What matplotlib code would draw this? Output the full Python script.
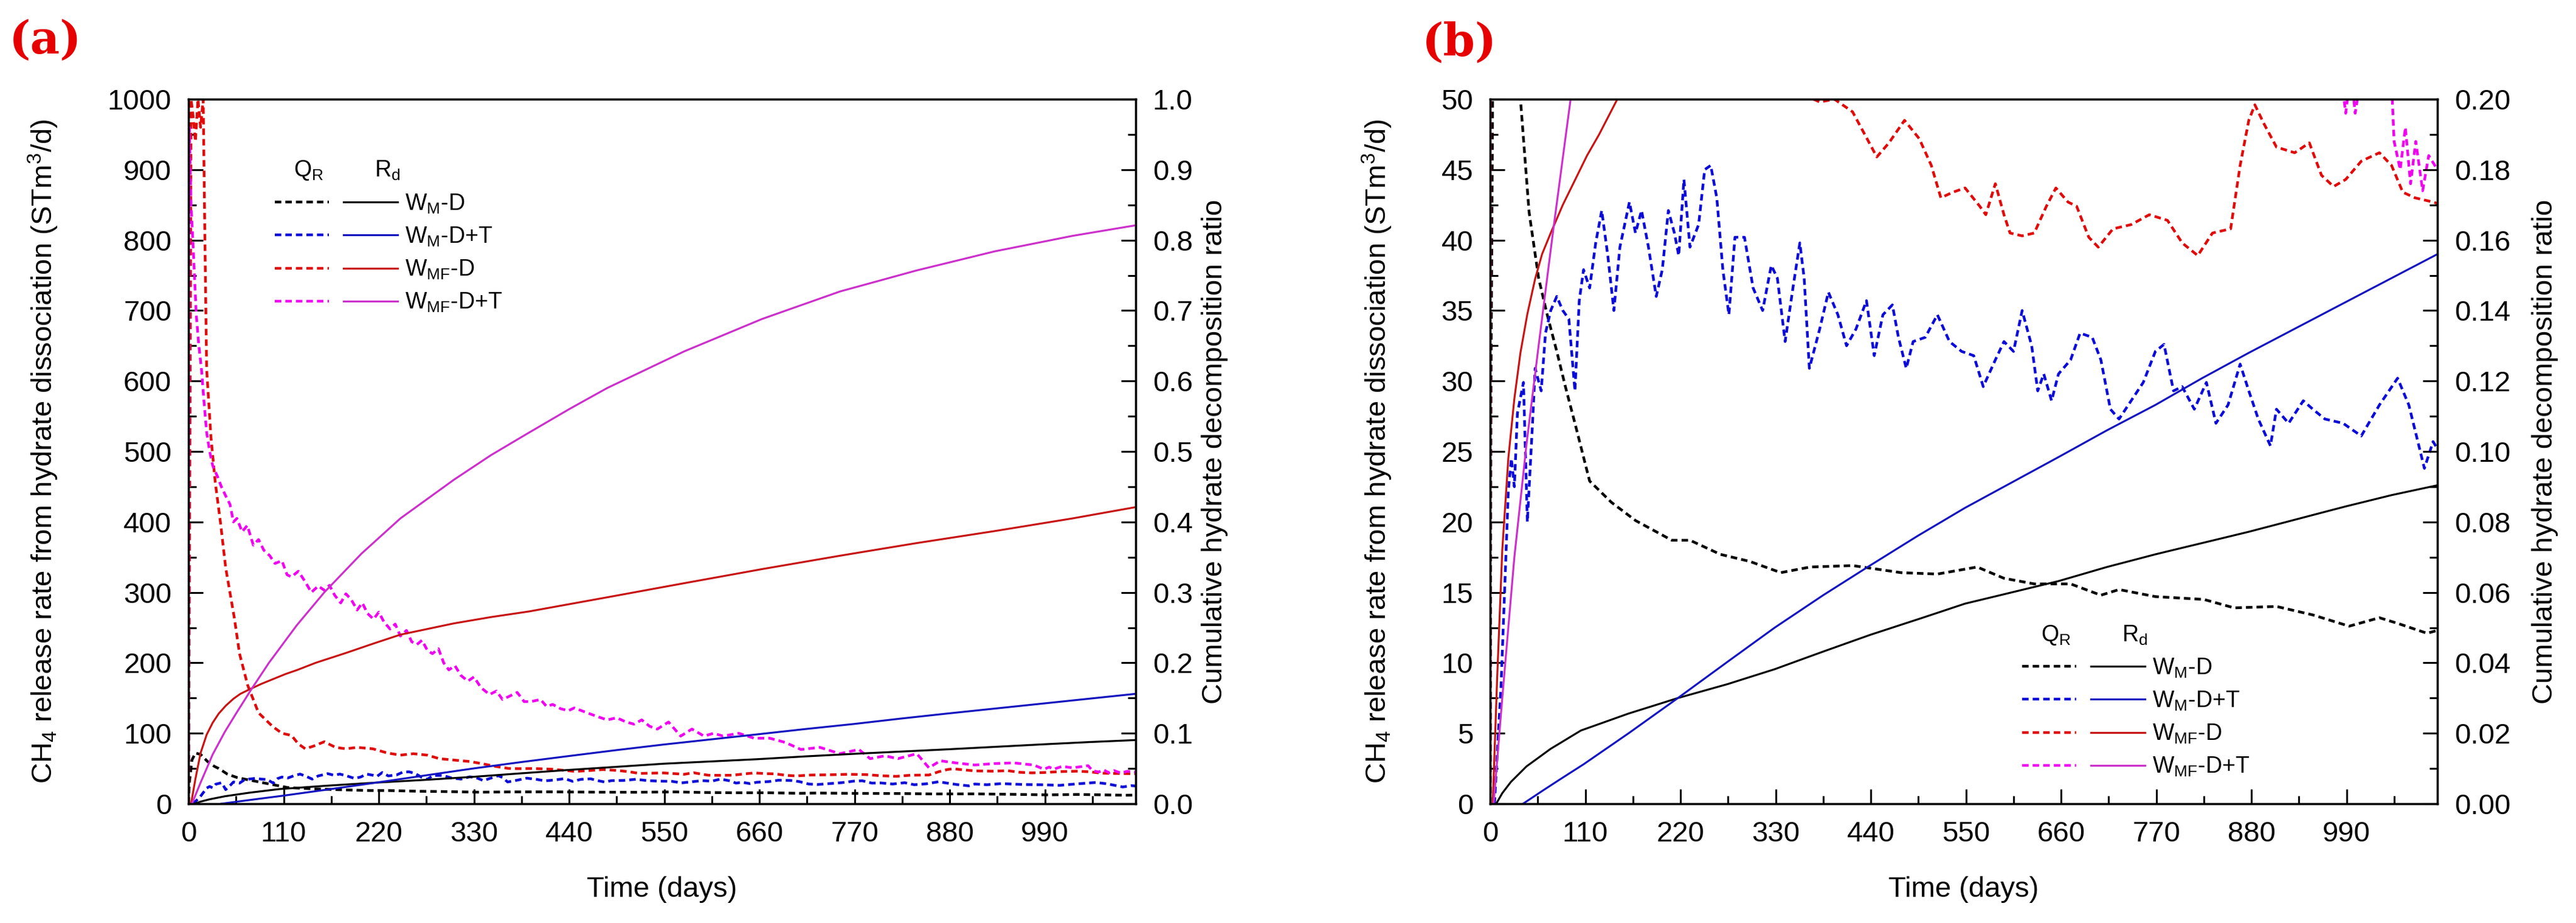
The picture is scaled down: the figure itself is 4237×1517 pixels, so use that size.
import numpy as np
import matplotlib
matplotlib.use('Agg')
import matplotlib.pyplot as plt
from matplotlib.ticker import MultipleLocator, FormatStrFormatter
from matplotlib.legend_handler import HandlerTuple

plt.rcParams['font.family'] = ['Liberation Sans', 'DejaVu Sans']
plt.rcParams['mathtext.fontset'] = 'custom'
plt.rcParams['mathtext.rm'] = 'Liberation Sans'
plt.rcParams['mathtext.it'] = 'Liberation Sans:italic'

# ---- data: (day, value) ----
# Q_R, CH4 release rate (STm3/d)
qr_wm_d = [(0, 0), (1, 30), (4, 62), (8, 72), (14, 70), (22, 60), (30, 53), (35, 50),
           (45, 42), (56, 37.3), (66, 34.7), (77, 32.1), (87, 29.6), (98, 27), (115, 22.9),
           (140, 21.4), (168, 20.1), (210, 18.7), (231, 18.7), (266, 17.7), (300, 17.2),
           (336, 16.4), (370, 16.8), (419, 16.9), (475, 16.4), (517, 16.3), (563, 16.8),
           (594, 16.0), (629, 15.6), (671, 15.6), (706, 14.8), (727, 15.2), (769, 14.7),
           (825, 14.5), (860, 13.9), (909, 14.0), (951, 13.4), (993, 12.6), (1028, 13.2),
           (1049, 12.8), (1083, 12.1), (1095, 12.3)]

qr_wm_dt = [(5, 0), (12.6, 8.4), (17.5, 16.4), (21, 22.2), (24.5, 24.5), (28, 22.5), (31.5, 27.7),
            (38.5, 29.9), (43, 20), (49, 27), (52, 30.9), (59, 29.3), (64, 33.4), (70, 35.0),
            (77, 36), (84, 35), (91, 34.4), (98, 29.3), (103, 35.7), (108, 37.9), (115, 36.6),
            (122, 39.8), (129, 42.1), (136, 38.9), (143, 35), (150, 39.5), (161, 42.7),
            (168, 40.5), (175, 42.1), (183, 39.5), (192, 36), (199, 37.9), (206, 42.1),
            (213, 40.5), (218, 38.9), (224, 44.3), (231, 39.5), (241, 41.1), (248, 45),
            (255, 45.3), (262, 43), (269, 37.9), (276, 34.7), (283, 40.2), (294, 40.2),
            (304, 36.6), (315, 35), (325, 38.2), (332, 37.3), (341, 32.8), (350, 36.6),
            (358, 39.8), (363, 37.3), (369, 30.9), (381, 33.7), (391, 36.3), (402, 34.7),
            (412, 32.5), (423, 33.7), (435, 35.7), (444, 31.8), (454, 34.7), (465, 35.4),
            (472, 33.1), (481, 30.9), (489, 32.8), (503, 33.1), (517, 34.7), (531, 32.8),
            (545, 32.1), (559, 31.8), (570, 29.6), (584, 31.5), (594, 32.8), (605, 32.1),
            (615, 35), (626, 32.5), (633, 29.3), (640, 30.5), (649, 28.6), (657, 30.5),
            (671, 31.5), (682, 33.4), (696, 33.1), (706, 31.5), (717, 28), (727, 27.3),
            (741, 28.6), (755, 29.9), (769, 32.1), (779, 32.6), (790, 29.3), (800, 29.6),
            (814, 28), (828, 29.9), (839, 27), (853, 28.3), (867, 31.2), (877, 29.3),
            (888, 27.3), (902, 25.4), (909, 28), (923, 27), (940, 28.6), (951, 28),
            (965, 27.3), (986, 27), (1007, 26.1), (1028, 28.3), (1049, 30.2), (1062, 28.3),
            (1080, 23.8), (1090, 25.7), (1095, 25.2)]

qr_wmf_d = [(0, 0), (2, 600), (3, 1000), (5, 980), (8, 940), (11, 1000), (14, 960), (17, 1000),
            (19, 800), (21, 617), (26, 520), (31, 456), (37, 399), (43, 335), (53, 264), (59, 213),
            (68.5, 168), (81, 129), (97, 110), (108, 100), (119, 97), (127, 85), (135, 78),
            (145, 82), (157, 88), (170, 80), (182, 78), (195, 80), (213, 78), (230, 72),
            (245, 69), (260, 71), (276, 69), (290, 64), (307, 62), (325, 60), (339, 57),
            (355, 53), (370, 50.1), (381, 49.8), (398, 50), (419, 49.1), (433, 47.5),
            (447, 45.9), (461, 46.9), (479, 48.5), (496, 47.2), (510, 45.3), (521, 43),
            (535, 43.4), (549, 43.7), (566, 42.4), (573, 41.8), (584, 44), (594, 41.8),
            (601, 40.5), (615, 40.3), (629, 40.5), (643, 42.4), (654, 43.7), (668, 42.7),
            (678, 42.4), (692, 40.2), (703, 39.5), (720, 40.8), (741, 41.1), (762, 41.8),
            (783, 41.4), (800, 39.8), (818, 38.9), (835, 40.5), (856, 40.8), (867, 45.3),
            (877, 48.5), (884, 49.6), (895, 48.2), (909, 46.6), (930, 46.2), (947, 46.9),
            (961, 44.6), (975, 43.8), (989, 44.3), (1007, 45.6), (1028, 46.2), (1042, 45.3),
            (1055, 43.4), (1069, 43), (1090, 42.7), (1095, 42.6)]

qr_wmf_dt = [(0, 0), (1, 960), (3, 850), (5.7, 783), (9, 694), (12, 650), (15, 617), (18, 570),
             (21, 527), (24.5, 500), (28, 480), (34, 463), (38, 450), (43, 437), (48, 425),
             (52, 400), (56, 405), (62, 386), (68, 395), (75, 367), (81, 375), (87, 360),
             (94, 352), (100, 341), (108, 345), (114, 325), (119, 322), (127, 330), (135, 315),
             (142, 300), (150, 309), (157, 303), (163, 310), (169, 296), (176, 285), (182, 298),
             (188, 290), (195, 275), (201, 285), (207, 270), (214, 262), (220, 272), (226, 258),
             (233, 248), (239, 255), (245, 238), (252, 246), (258, 230), (264, 226), (270, 232),
             (276, 218), (282, 213), (289, 220), (295, 200), (301, 190), (308, 196), (315, 182),
             (323, 174), (330, 180), (338, 165), (348, 155), (356, 160), (363, 148), (370, 152),
             (380, 158), (388, 145), (396, 145), (407, 148), (414, 138), (421, 141), (430, 135),
             (439, 132), (446, 136), (461, 129), (472, 124), (484, 119), (495, 122), (506, 116),
             (515, 113), (524, 119), (533, 110), (542, 106), (555, 116), (569, 96), (582, 106),
             (596, 96), (607, 100), (618, 96), (636, 100), (654, 93), (672, 93), (690, 87),
             (708, 77), (730, 80), (753, 71), (775, 77), (788, 64), (805, 68), (820, 64),
             (842, 71), (856, 51), (869, 61), (887, 58), (909, 55), (931, 57), (954, 58),
             (977, 55), (989, 49), (995, 52), (1000, 49), (1010, 53), (1022, 51), (1040, 54),
             (1045, 47), (1052, 45), (1058, 48), (1064, 44), (1070, 47), (1078, 43.5),
             (1085, 46), (1095, 45)]

# R_d, cumulative hydrate decomposition ratio
rd_wm_d = [(7, 0), (14, 0.003), (24, 0.0062), (42, 0.0106), (70, 0.0156), (105, 0.0208),
           (160, 0.0256), (217, 0.030), (275, 0.034), (329, 0.0382), (385, 0.0432), (440, 0.048),
           (495, 0.0524), (549, 0.0568), (603, 0.060), (657, 0.0632), (713, 0.0672), (769, 0.0708),
           (823, 0.074), (877, 0.0772), (933, 0.0808), (989, 0.0844), (1042, 0.0876), (1095, 0.0904)]

rd_wm_dt = [(38, 0), (60, 0.0036), (80, 0.0068), (108, 0.0112), (160, 0.020), (217, 0.030),
            (275, 0.0404), (329, 0.050), (385, 0.0592), (439, 0.0676), (494, 0.076), (549, 0.084),
            (603, 0.0912), (657, 0.0984), (713, 0.106), (769, 0.1132), (823, 0.1208), (877, 0.128),
            (933, 0.1352), (989, 0.1424), (1042, 0.1492), (1095, 0.156)]

rd_wmf_d = [(3, 0), (8, 0.035), (14, 0.072), (21, 0.098), (28, 0.115), (35, 0.128), (43, 0.139),
            (52, 0.149), (60, 0.156), (70, 0.162), (84, 0.170), (98, 0.177), (112, 0.184),
            (126, 0.19), (147, 0.2), (182, 0.214), (213, 0.227), (245, 0.240), (276, 0.248),
            (307, 0.256), (350, 0.265), (394, 0.273), (484, 0.293), (573, 0.313), (663, 0.333),
            (753, 0.352), (842, 0.37), (932, 0.387), (1022, 0.405), (1095, 0.421)]

rd_wmf_dt = [(4, 0), (14, 0.03), (28, 0.07), (42, 0.102), (56, 0.13), (73, 0.163), (93, 0.2),
             (125, 0.253), (157, 0.30), (200, 0.355), (245, 0.405), (307, 0.46), (350, 0.495),
             (394, 0.527), (440, 0.56), (484, 0.59), (573, 0.642), (663, 0.688), (753, 0.727),
             (842, 0.757), (932, 0.784), (1022, 0.806), (1095, 0.821)]

case_names = ['W$_\\mathrm{M}$-D', 'W$_\\mathrm{M}$-D+T', 'W$_\\mathrm{MF}$-D', 'W$_\\mathrm{MF}$-D+T']
qr_series = [qr_wm_d, qr_wm_dt, qr_wmf_d, qr_wmf_dt]
rd_series = [rd_wm_d, rd_wm_dt, rd_wmf_d, rd_wmf_dt]
qr_colors = ['#000000', '#0a0ad8', '#e00a0a', '#f000f0']
rd_colors = ['#000000', '#1414c0', '#c81414', '#cc30cc']

fig = plt.figure(figsize=(42.37, 15.17), dpi=100)


def make_panel(rect, qmax, qmaj, rmax, rmaj, rfmt, leg_anchor, rpad):
    ax = fig.add_axes(rect)
    ax2 = ax.twinx()
    dashed, solid = [], []
    for data, c in zip(qr_series, qr_colors):
        d, v = np.array(data).T
        l, = ax.plot(d, v, color=c, lw=3.2, ls=(0, (2.4, 1.5)))
        dashed.append(l)
    for data, c in zip(rd_series, rd_colors):
        d, v = np.array(data).T
        l, = ax2.plot(d, v, color=c, lw=2.3)
        solid.append(l)

    ax.set_xlim(0, 1095)
    ax.set_ylim(0, qmax)
    ax2.set_ylim(0, rmax)
    ax.set_xticks(range(0, 1000, 110))
    ax.xaxis.set_minor_locator(MultipleLocator(55))
    ax.yaxis.set_major_locator(MultipleLocator(qmaj))
    ax.yaxis.set_minor_locator(MultipleLocator(qmaj / 2))
    ax2.yaxis.set_major_locator(MultipleLocator(rmaj))
    ax2.yaxis.set_minor_locator(MultipleLocator(rmaj / 2))
    ax2.yaxis.set_major_formatter(FormatStrFormatter(rfmt))

    for a in (ax, ax2):
        a.tick_params(which='both', direction='in', labelsize=34, pad=20, width=2.2)
        a.tick_params(which='major', length=17)
        a.tick_params(which='minor', length=9.5)
        for s in a.spines.values():
            s.set_linewidth(2.4)
    ax.tick_params(top=False, right=False)

    ax.set_xlabel('Time (days)', fontsize=34, labelpad=34)
    ax.set_ylabel('CH$_4$ release rate from hydrate dissociation (STm$^3$/d)',
                  fontsize=34, labelpad=56)
    ax2.set_ylabel('Cumulative hydrate decomposition ratio', fontsize=34, labelpad=rpad)

    handles = [(q, r) for q, r in zip(dashed, solid)]
    leg = ax2.legend(handles, case_names, loc='upper left', bbox_to_anchor=leg_anchor,
                     handler_map={tuple: HandlerTuple(ndivide=None, pad=0.64)},
                     handlelength=5.4, handletextpad=0.3, labelspacing=0.45,
                     borderpad=0, borderaxespad=0, frameon=False, fontsize=27,
                     title='   Q$_\\mathrm{R}$        R$_\\mathrm{d}$', title_fontsize=27,
                     alignment='left')
    return ax, ax2


make_panel([310 / 4237, 196 / 1517, 1558 / 4237, 1158 / 1517], 1000, 100, 1.0, 0.1, '%.1f',
           (0.091, 0.915), 10)
make_panel([2451 / 4237, 196 / 1517, 1558 / 4237, 1158 / 1517], 50, 5, 0.20, 0.02, '%.2f',
           (0.5616, 0.256), 25)

fig.text(15 / 4237, 1 - 67 / 1517, '(a)', fontsize=54, fontweight='bold', family='DejaVu Serif',
         color='#e60000', ha='left', va='center')
fig.text(2339 / 4237, 1 - 71 / 1517, '(b)', fontsize=54, fontweight='bold', family='DejaVu Serif',
         color='#e60000', ha='left', va='center')

fig.savefig('out.png', dpi=100)
